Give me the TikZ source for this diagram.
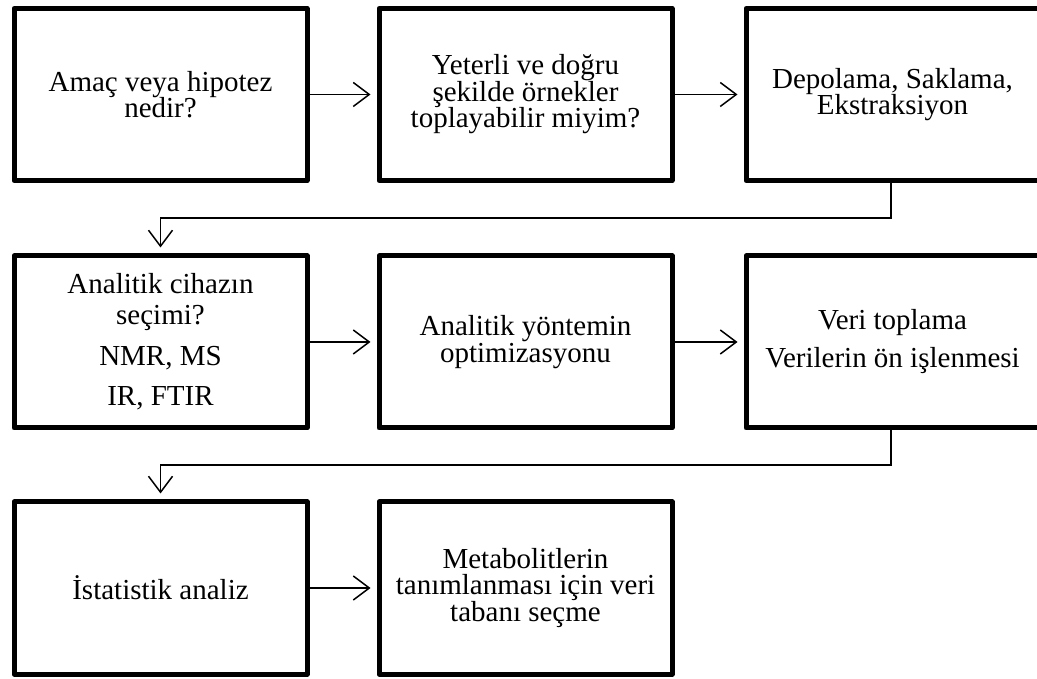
\documentclass[tikz,border=0pt]{standalone}
\usepackage{fontspec}
\setmainfont{Liberation Serif}
\usetikzlibrary{arrows.meta}

\begin{document}
\begin{tikzpicture}[x=1pt,y=1pt,
		box/.style={draw,line width=5pt,line join=round,minimum width=293pt,minimum height=172pt,align=center,inner sep=0pt,font=\fontsize{29}{26.5}\selectfont},
		flow/.style={line width=1.5pt,-{Straight Barb[length=16pt,width=24pt,line width=1.5pt]},shorten >=6pt}]
		\useasboundingbox (0,0) rectangle (1037,678);
		%%first row
		\node[box] (amac) at (160.5,583.5) {Amaç veya hipotez\\nedir?};
		\node[box] (ornek) at (525.5,583.5) {Yeterli ve doğru\\şekilde örnekler\\toplayabilir miyim?};
		\node[box] (depo) at (892.5,583.5) {Depolama, Saklama,\\Ekstraksiyon};
		%%second row
		\node[box] (cihaz) at (160.5,336) {Analitik cihazın\\[4.5pt]seçimi?\\[14.5pt]NMR, MS\\[13.5pt]IR, FTIR};
		\node[box] (yontem) at (525.5,336) {Analitik yöntemin\\optimizasyonu};
		\node[box] (veri) at (892.5,336) {Veri toplama\\[11.5pt]Verilerin ön işlenmesi};
		%%third row
		\node[box] (istat) at (160.5,90) {İstatistik analiz};
		\node[box] (taban) at (525.5,90) {Metabolitlerin\\tanımlanması için veri\\tabanı seçme};
		%%arrows
		\draw[flow] (amac) -- (ornek);
		\draw[flow] (ornek) -- (depo);
		\draw[flow] (cihaz) -- (yontem);
		\draw[flow] (yontem) -- (veri);
		\draw[flow] (istat) -- (taban);
		%%turns to next row
		\coordinate (turnA) at ([xshift=-1.5pt]depo.south |- 0,460);
		\coordinate (turnB) at ([xshift=-1.5pt]veri.south |- 0,213);
		\draw[flow] ([xshift=-1.5pt]depo.south) -- (turnA) -| (cihaz.north);
		\draw[flow] ([xshift=-1.5pt]veri.south) -- (turnB) -| (istat.north);
	\end{tikzpicture}
\end{document}
